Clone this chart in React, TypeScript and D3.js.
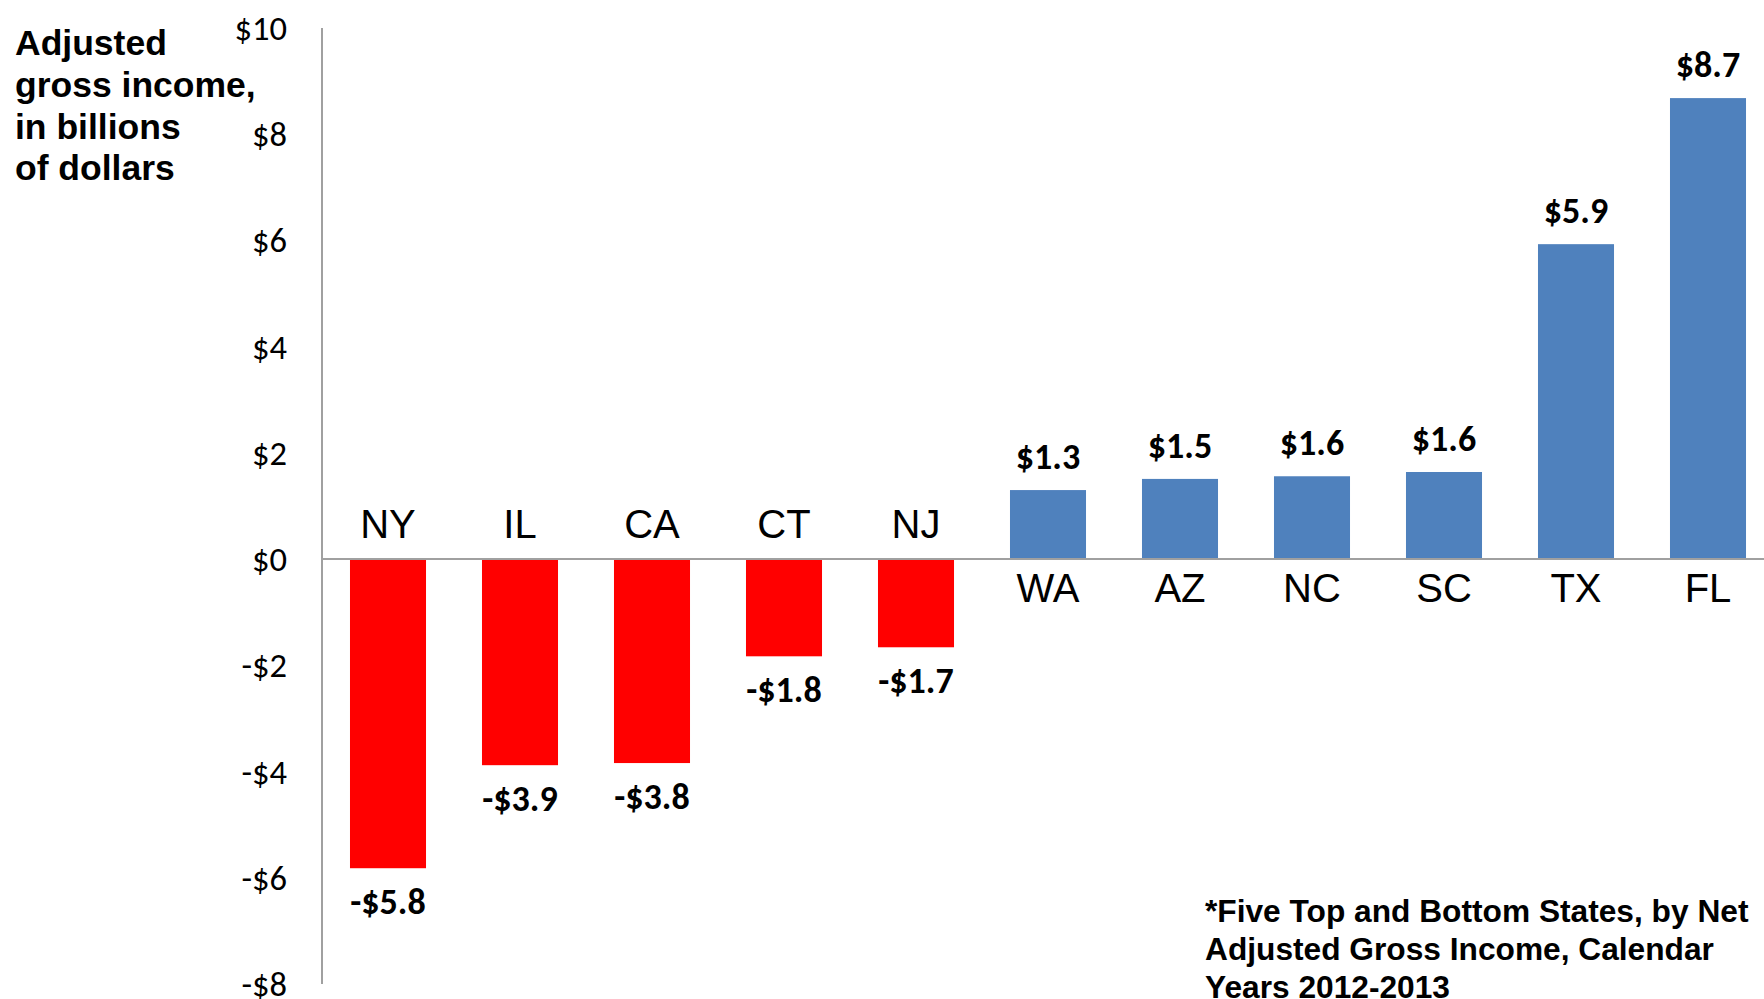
import { useMemo } from 'react';
import * as d3 from 'd3';

const states = ['NY', 'IL', 'CA', 'CT', 'NJ', 'WA', 'AZ', 'NC', 'SC', 'TX', 'FL'];
const netAgi = [-5.82, -3.88, -3.84, -1.83, -1.66, 1.3, 1.51, 1.56, 1.64, 5.93, 8.68];
const yTicks = [-8, -6, -4, -2, 0, 2, 4, 6, 8, 10];
const titleLines = ['Adjusted', 'gross income,', 'in billions', 'of dollars'];
const noteLines = [
  '*Five Top and Bottom States, by Net',
  'Adjusted Gross Income, Calendar',
  'Years 2012-2013',
];

const W = 1764;
const H = 999;
const margin = { top: 28, right: -10, bottom: 15, left: 322 };

const RED = '#ff0000';
const BLUE = '#4f81bd';
const AXIS = '#a0a0a0';

const money = (v: number) => {
  const s = '$' + Math.abs(v).toFixed(1);
  return v < 0 ? '-' + s : s;
};

export default function App() {
  if (typeof document !== 'undefined') document.body.style.margin = '0';

  const x = useMemo(
    () =>
      d3.scaleBand<string>()
        .domain(states)
        .range([margin.left, W - margin.right])
        .paddingInner(0.424)
        .paddingOuter(0.212),
    []
  );

  const y = useMemo(
    () => d3.scaleLinear().domain([-8, 10]).range([H - margin.bottom, margin.top]),
    []
  );

  const y0 = y(0);

  return (
    <svg width={W} height={H} style={{ display: 'block', background: '#fff' }}>
      {/* y axis title */}
      <text fontFamily="'Liberation Sans', Arial, sans-serif" fontWeight="bold" fontSize={35.5} fill="#000">
        {titleLines.map((t, i) => (
          <tspan key={i} x={15} y={55 + i * 41.8}>{t}</tspan>
        ))}
      </text>

      {/* tick labels */}
      {yTicks.map(t => (
        <text
          key={t}
          x={287}
          y={y(t)}
          dy={12}
          textAnchor="end"
          fontFamily="Carlito, Lato, sans-serif"
          fontSize={34.5}
          fill="#000"
        >
          {t < 0 ? `-$${-t}` : `$${t}`}
        </text>
      ))}

      {/* bars */}
      {states.map((s, i) => {
        const v = netAgi[i];
        return (
          <rect
            key={s}
            x={x(s)}
            y={Math.min(y(v), y0)}
            width={x.bandwidth()}
            height={Math.abs(y(v) - y0)}
            fill={v < 0 ? RED : BLUE}
          />
        );
      })}

      {/* axes */}
      <line x1={margin.left} x2={margin.left} y1={y(10)} y2={y(-8)} stroke={AXIS} strokeWidth={2} />
      <line x1={margin.left} x2={W} y1={y0} y2={y0} stroke={AXIS} strokeWidth={2} />

      {/* state labels */}
      {states.map((s, i) => {
        const v = netAgi[i];
        return (
          <text
            key={s}
            x={(x(s) ?? 0) + x.bandwidth() / 2}
            y={v < 0 ? y0 - 21 : y0 + 43}
            textAnchor="middle"
            fontFamily="'Liberation Sans', Arial, sans-serif"
            fontSize={40}
            fill="#000"
          >
            {s}
          </text>
        );
      })}

      {/* value labels */}
      {states.map((s, i) => {
        const v = netAgi[i];
        return (
          <text
            key={s}
            x={(x(s) ?? 0) + x.bandwidth() / 2}
            y={v < 0 ? y(v) + 46 : y(v) - 21}
            textAnchor="middle"
            fontFamily="Carlito, Lato, sans-serif"
            fontWeight="bold"
            fontSize={36}
            fill="#000"
          >
            {money(v)}
          </text>
        );
      })}

      {/* footnote */}
      <text fontFamily="'Liberation Sans', Arial, sans-serif" fontWeight="bold" fontSize={31.7} fill="#000">
        {noteLines.map((t, i) => (
          <tspan key={i} x={1205} y={922 + i * 38}>{t}</tspan>
        ))}
      </text>
    </svg>
  );
}
